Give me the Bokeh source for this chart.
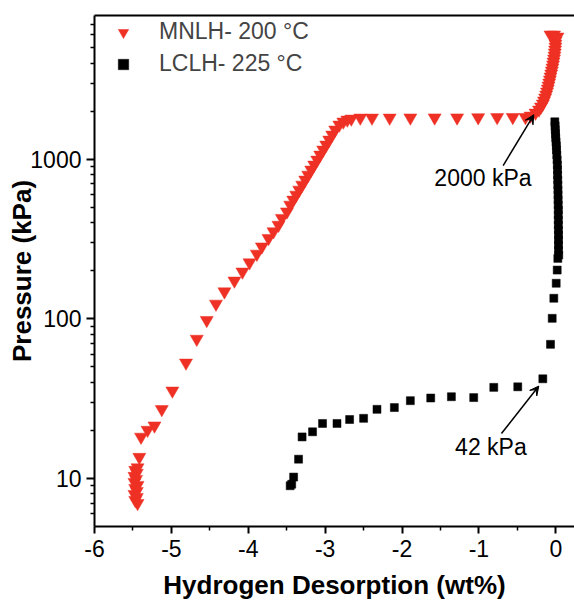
from bokeh.plotting import figure
from bokeh.models import (Range1d, FixedTicker, LinearAxis, Legend, LegendItem,
                          Arrow, VeeHead, Label, CustomJSTickFormatter)
from bokeh.embed import file_html
from bokeh.resources import INLINE

# ---------------- data ----------------
mnlh_x = [-5.44, -5.47, -5.45, -5.48, -5.45, -5.47, -5.44, -5.48, -5.46, -5.48, -5.45, -5.47, -5.44,
          -5.417, -5.395, -5.31, -5.22, -5.125, -4.987, -4.81, -4.67, -4.54, -4.42, -4.31, -4.18,
          -4.076, -3.984, -3.888, -3.823, -3.737, -3.672, -3.607, -3.563, -3.497,
          -3.454, -3.415, -3.376, -3.337, -3.298, -3.259, -3.220, -3.181, -3.142, -3.103, -3.064,
          -3.025, -2.986, -2.947, -2.908, -2.869, -2.816, -2.764, -2.712, -2.660,
          -2.543, -2.391, -2.161, -1.892, -1.576, -1.284, -1.010, -0.763, -0.560, -0.395,
          -0.329, -0.264, -0.219, -0.193, -0.169, -0.154, -0.139, -0.126, -0.115, -0.104, -0.095,
          -0.086, -0.077, -0.069, -0.060, -0.052, -0.044, -0.036, -0.030, -0.023, -0.017, -0.013,
          -0.009, -0.005, -0.004, -0.004, -0.004, -0.023, -0.069, 0.022]
mnlh_y = [7.0, 7.31, 7.63, 7.97, 8.32, 8.69, 9.08, 9.48, 9.90, 10.34, 10.8, 11.28, 11.7,
          13.6, 18.2, 20.1, 21.4, 27.1, 35.4, 53, 74.7, 98, 124, 148, 173,
          197, 225, 255, 283, 320, 352, 387, 427, 469,
          517, 556, 597, 642, 690, 742, 797, 857, 921, 990, 1064,
          1144, 1229, 1321, 1420, 1527, 1641, 1714, 1764, 1789,
          1815, 1815, 1815, 1818, 1820, 1820, 1825, 1828, 1830, 1830,
          1868, 1950, 2037, 2128, 2222, 2321, 2423, 2530, 2642, 2760, 2882,
          3009, 3142, 3281, 3426, 3578, 3736, 3901, 4074, 4254, 4442, 4640,
          4845, 5059, 5283, 5516, 5760, 6015, 6015, 5845]

lclh_x = [-3.455, -3.435, -3.41, -3.346, -3.30, -3.164, -3.034, -2.846, -2.682, -2.50, -2.326,
          -2.10, -1.892, -1.627, -1.358, -1.068, -0.807, -0.495, -0.169,
          -0.069, -0.047, -0.026, 0.005, 0.018, 0.026,
          0.038, 0.035, 0.035, 0.035, 0.035, 0.034, 0.033, 0.033, 0.032, 0.033, 0.031, 0.030,
          0.029, 0.028, 0.026, 0.025, 0.023, 0.022, 0.020, 0.017, 0.013, 0.009, 0.007, 0.003,
          -0.001, -0.004, -0.007, -0.009, -0.013]
lclh_y = [9.0, 9.2, 10.2, 13.2, 18.2, 19.6, 22.1, 22.1, 23.4, 23.8, 27.1,
          27.8, 30.7, 31.9, 32.5, 32.1, 37.2, 37.5, 42.1,
          69.2, 100.7, 134.5, 167, 202, 239,
          251, 270, 290, 312, 335, 360, 387, 416, 448, 481, 517, 556,
          597, 642, 690, 742, 797, 857, 921, 990, 1064, 1143, 1211, 1283,
          1360, 1441, 1527, 1617, 1714]

x_ticks = [-6, -5, -4, -3, -2, -1, 0]
x_minor = [-5.5, -4.5, -3.5, -2.5, -1.5, -0.5]
y_ticks = [10, 100, 1000]
y_minor = [6, 7, 8, 9, 20, 30, 40, 50, 60, 70, 80, 90,
           200, 300, 400, 500, 600, 700, 800, 900, 2000, 3000, 4000, 5000, 6000, 7000]

annot_text = ["2000 kPa", "42 kPa"]
annot_text_x = [-0.948, -0.844]
annot_text_y = [764, 15.7]
arrow_x0 = [-0.685, -0.707]
arrow_y0 = [912, 19.1]
arrow_x1 = [-0.286, -0.221]
arrow_y1 = [1897, 37.9]

series_labels = ["MNLH- 200 °C", "LCLH- 225 °C"]
RED = "#EE3124"
FONT = "Liberation Sans"

# ---------------- figure ----------------
p = figure(width=574, height=602, output_backend="svg", toolbar_location=None,
           y_axis_type="log",
           x_range=Range1d(-6, 0.243), y_range=Range1d(5.0, 7943),
           min_border_left=94, min_border_right=0, min_border_top=15, min_border_bottom=76)
p.grid.visible = False
p.outline_line_color = None
p.background_fill_color = "white"
p.border_fill_color = "white"

r1 = p.scatter(mnlh_x, mnlh_y, marker="inverted_triangle", size=13,
               fill_color=RED, line_color=RED, line_width=0.5)
r2 = p.scatter(lclh_x, lclh_y, marker="square", size=8,
               fill_color="black", line_color="black", line_width=0.5)

xa = p.xaxis[0]
xa.ticker = FixedTicker(ticks=x_ticks, minor_ticks=x_minor)
xa.formatter = CustomJSTickFormatter(code="return String(Math.round(tick));")
xa.axis_label = "Hydrogen Desorption (wt%)"
ya = p.yaxis[0]
ya.ticker = FixedTicker(ticks=y_ticks, minor_ticks=y_minor)
ya.formatter = CustomJSTickFormatter(code="return String(Math.round(tick));")
ya.axis_label = "Pressure (kPa)"

for ax in (xa, ya):
    ax.axis_line_width = 2
    ax.axis_line_color = "black"
    ax.major_tick_line_width = 2
    ax.minor_tick_line_width = 1.5
    ax.major_tick_in = 0
    ax.minor_tick_in = 0
    ax.major_label_text_font = FONT
    ax.major_label_text_font_size = "23px"
    ax.major_label_text_color = "black"
    ax.axis_label_text_font = FONT
    ax.axis_label_text_font_size = "26px"
    ax.axis_label_text_font_style = "bold"
    ax.axis_label_text_color = "black"

xa.major_tick_out = 7
xa.minor_tick_out = 4
xa.major_label_standoff = 6
xa.axis_label_standoff = 10
ya.major_tick_out = 8
ya.minor_tick_out = 4
ya.major_label_standoff = 5
ya.axis_label_standoff = -10

top = LinearAxis(ticker=FixedTicker(ticks=[]), axis_line_width=2,
                 major_tick_line_color=None, minor_tick_line_color=None,
                 major_label_text_font_size="0px")
p.add_layout(top, "above")

for i in range(len(annot_text)):
    p.add_layout(Arrow(x_start=arrow_x0[i], y_start=arrow_y0[i],
                       x_end=arrow_x1[i], y_end=arrow_y1[i],
                       line_width=1.5, line_color="black",
                       end=VeeHead(size=9, fill_color="black", line_color="black")))
    p.add_layout(Label(x=annot_text_x[i], y=annot_text_y[i], text=annot_text[i],
                       text_font=FONT, text_font_size="23px", text_color="black",
                       text_align="center", text_baseline="middle"))

legend = Legend(items=[LegendItem(label=series_labels[0], renderers=[r1]),
                       LegendItem(label=series_labels[1], renderers=[r2])],
                location=(16, 449), padding=0, margin=0, spacing=5,
                glyph_width=26, glyph_height=26, label_height=26, label_standoff=23,
                label_text_font=FONT, label_text_font_size="23px",
                border_line_color=None, background_fill_alpha=0)
p.add_layout(legend)

open("out.html", "w").write(file_html(p, INLINE))
